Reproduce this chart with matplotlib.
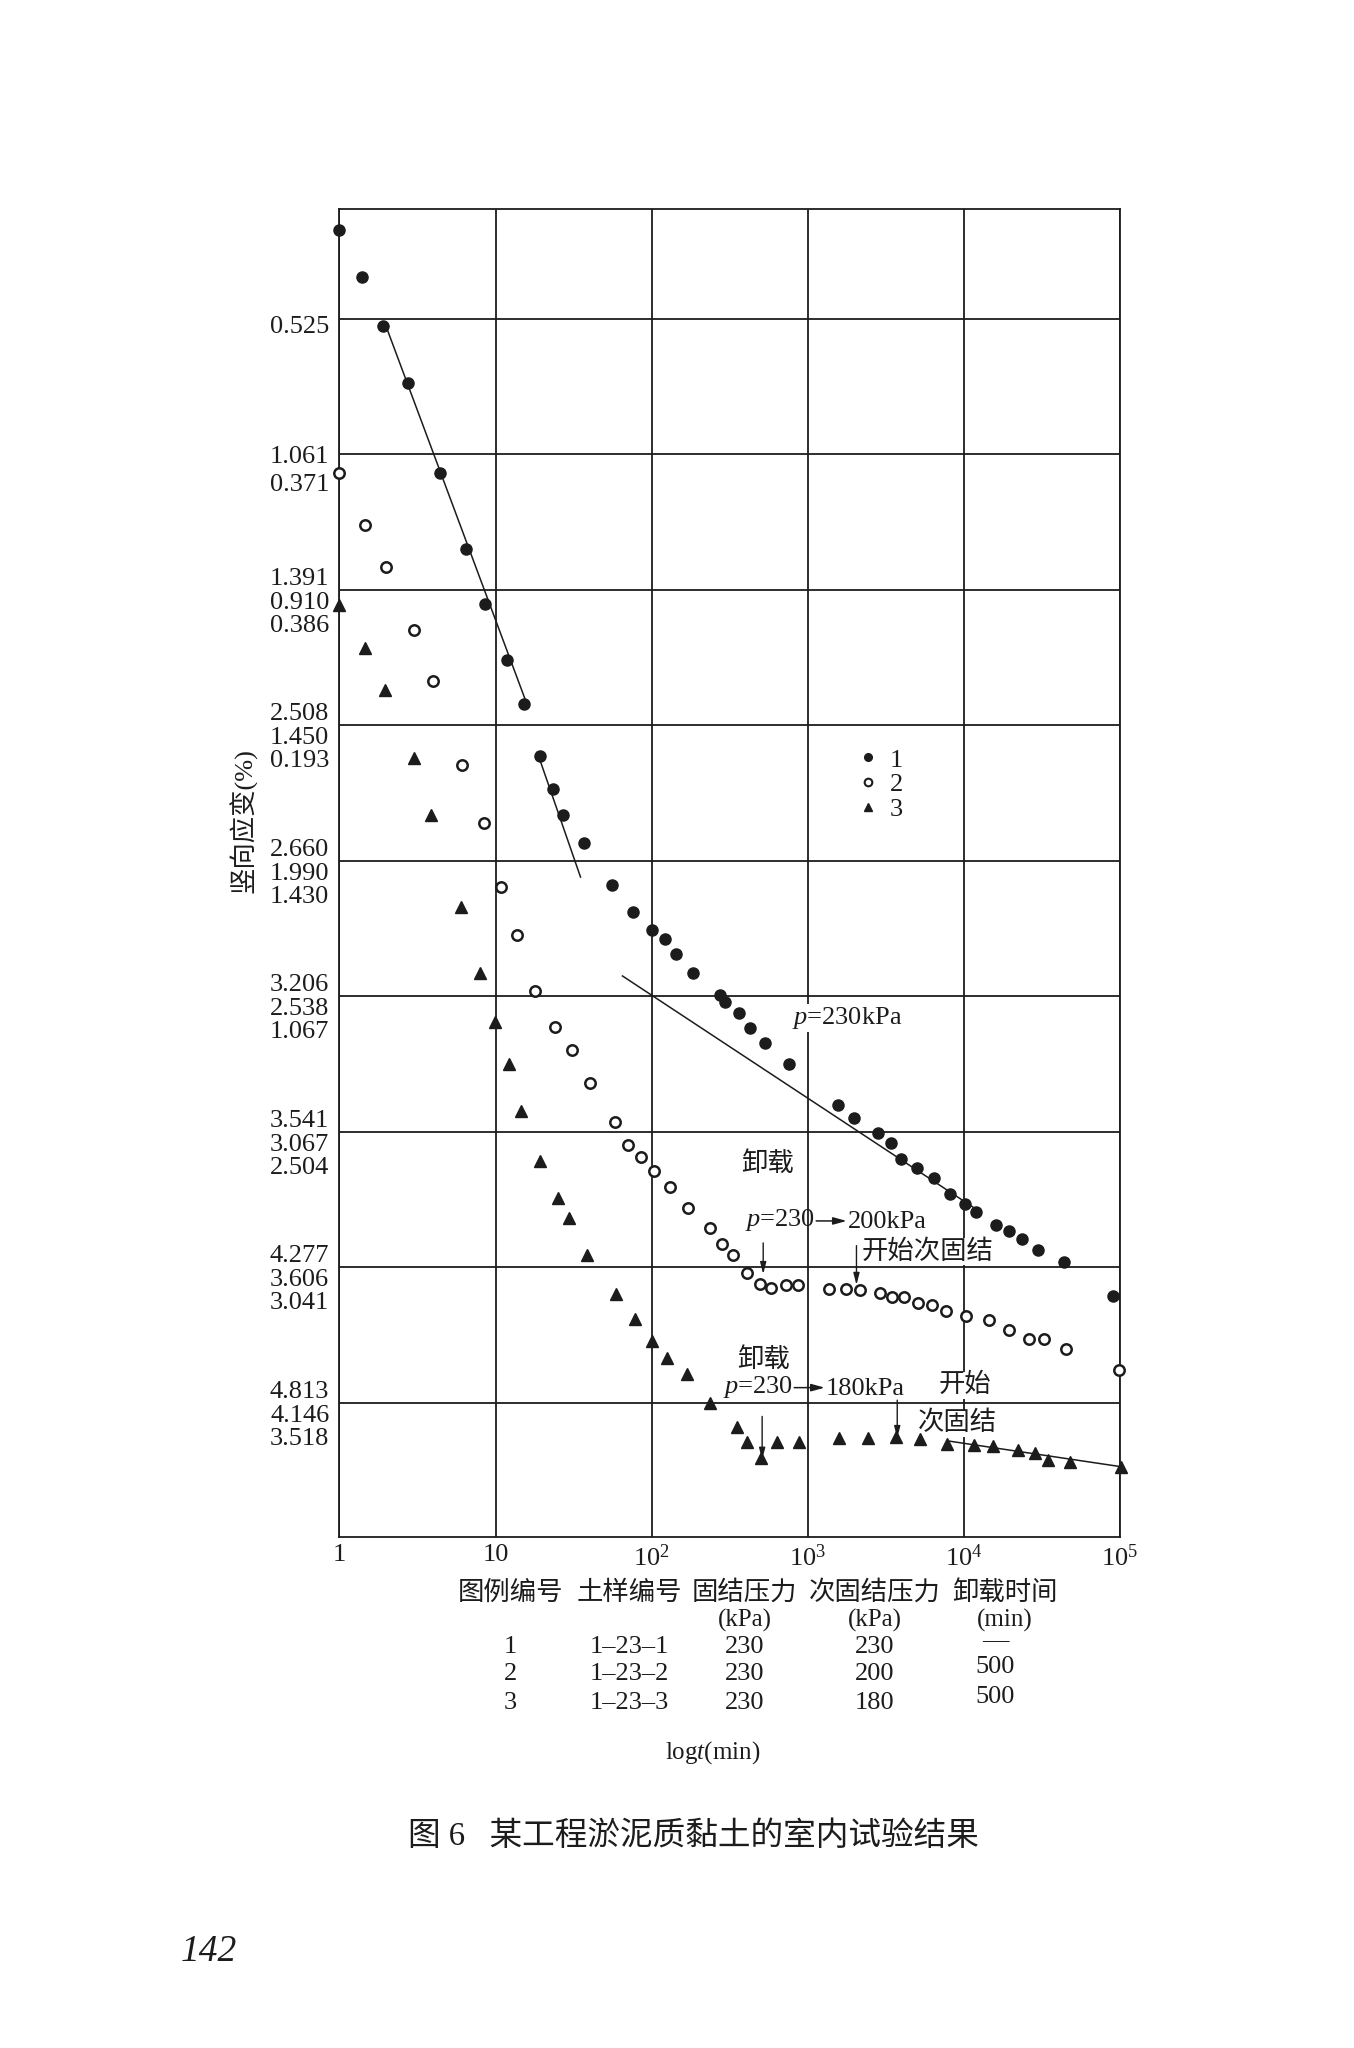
import matplotlib
matplotlib.use("Agg")
import matplotlib.pyplot as plt
from matplotlib.lines import Line2D
from matplotlib.text import OffsetFrom
from matplotlib.ticker import NullLocator

plt.rcParams['font.family'] = ['Liberation Serif', 'Noto Sans CJK SC']
plt.rcParams['mathtext.fontset'] = 'custom'
plt.rcParams['mathtext.rm'] = 'Liberation Serif'
plt.rcParams['mathtext.it'] = 'Liberation Serif:italic'

INK = '#1c1c1c'
FS = 19

# 时间 t (min)；纵向位置以网格线为单位 (1..9 对应九条横线，向下增大)
# 三组试样共用同一组网格线、各自标注应变值，所以按网格位置读数
s1_t = [1.0, 1.4, 1.9, 2.75, 4.4, 6.5, 8.6, 11.8, 15.2, 19.2, 23.5, 27, 37, 56, 76,
        101, 121, 143, 185, 272, 295, 362, 425, 532, 757, 1567, 1990, 2800, 3400,
        3950, 5000, 6400, 8200, 10100, 12000, 16000, 19500, 23400, 30000, 43500, 90000]
s1_pos = [0.344, 0.69, 1.057, 1.477, 2.139, 2.70, 3.107, 3.52, 3.84, 4.23, 4.47, 4.665,
          4.87, 5.18, 5.38, 5.51, 5.575, 5.69, 5.83, 5.99, 6.04, 6.126, 6.234, 6.344,
          6.497, 6.8, 6.9, 7.01, 7.085, 7.2, 7.27, 7.34, 7.46, 7.53, 7.59, 7.69, 7.73,
          7.79, 7.87, 7.96, 8.21]

s2_t = [1.0, 1.45, 1.98, 3.0, 4.0, 6.1, 8.4, 10.9, 13.8, 18, 24.2, 30.8, 40, 58, 71,
        86, 104, 131, 172, 238, 283, 331, 407, 493, 578, 723, 865, 1376, 1766, 2150,
        2920, 3440, 4150, 5060, 6250, 7650, 10300, 14400, 19400, 26200, 32700, 45200, 99000]
s2_pos = [2.14, 2.52, 2.83, 3.30, 3.67, 4.29, 4.72, 5.19, 5.55, 5.96, 6.23, 6.40, 6.64,
          6.93, 7.10, 7.185, 7.29, 7.41, 7.56, 7.71, 7.83, 7.91, 8.04, 8.125, 8.155,
          8.13, 8.13, 8.16, 8.16, 8.17, 8.19, 8.22, 8.22, 8.26, 8.28, 8.32, 8.36, 8.39,
          8.46, 8.53, 8.53, 8.6, 8.755]

s3_t = [1.0, 1.45, 1.96, 3.0, 3.86, 6.0, 8.0, 9.9, 12.2, 14.5, 19.3, 25.1, 29.5, 38.8,
        59, 78, 100, 125, 169, 238, 350, 407, 498, 638, 874, 1585, 2420, 3660, 5260,
        7830, 11600, 15400, 22200, 28600, 34600, 47800, 102000]
s3_pos = [3.11, 3.43, 3.74, 4.24, 4.66, 5.34, 5.83, 6.19, 6.50, 6.85, 7.215, 7.49, 7.635,
          7.906, 8.195, 8.38, 8.54, 8.67, 8.79, 9.0, 9.18, 9.29, 9.41, 9.29, 9.29, 9.26,
          9.26, 9.25, 9.27, 9.30, 9.31, 9.32, 9.35, 9.37, 9.42, 9.44, 9.47]

# 拟合直线端点
fit_lines = [
    ([1.95, 15.6], [1.03, 3.82]),
    ([18.5, 35.0], [4.20, 5.12]),
    ([65, 12300], [5.85, 7.58]),
    ([7800, 100000], [9.28, 9.47]),
]

# 纵轴刻度 (每条网格线旁的三组应变值 %)
ylab_1 = ["0.525", "1.061", "1.391", "2.508", "2.660", "3.206", "3.541", "4.277", "4.813"]
ylab_2 = ["", "0.371", "0.910", "1.450", "1.990", "2.538", "3.067", "3.606", "4.146"]
ylab_3 = ["", "", "0.386", "0.193", "1.430", "1.067", "2.504", "3.041", "3.518"]

x_ticks = [1, 10, 100, 1000, 10000, 100000]
x_ticklabels = ["1", "10", r"$10^{2}$", r"$10^{3}$", r"$10^{4}$", r"$10^{5}$"]

legend_labels = ["1", "2", "3"]

table_head = ["图例编号", "土样编号", "固结压力", "次固结压力", "卸载时间"]
table_unit = ["", "", "(kPa)", "(kPa)", "(min)"]
legend_no = ["1", "2", "3"]
sample_no = ["1–23–1", "1–23–2", "1–23–3"]
consol_p = ["230", "230", "230"]
second_p = ["230", "200", "180"]
unload_t = ["—", "500", "500"]


fig = plt.figure(figsize=(13.54, 20.48), dpi=100)
ax = fig.add_axes([0.2507, 0.2495, 0.5765, 0.6485])
ax.set_xscale('log')
ax.set_xlim(1, 1e5)
ax.set_ylim(9.99, 0.19)

ax.set_xticks(x_ticks)
ax.set_xticklabels(x_ticklabels, fontsize=FS, color=INK)
ax.xaxis.set_minor_locator(NullLocator())
ax.set_yticks(range(1, 10))
ax.set_yticklabels([])
ax.tick_params(length=0, pad=5)
ax.grid(True, color=INK, lw=1.3)
ax.set_axisbelow(True)
for sp in ax.spines.values():
    sp.set_color(INK)
    sp.set_linewidth(1.3)

# 数据点
ax.plot(s1_t, s1_pos, 'o', ms=8, color=INK, clip_on=False, zorder=5)
ax.plot(s2_t, s2_pos, 'o', ms=7.5, mfc='white', mec=INK, mew=1.8, clip_on=False, zorder=5)
ax.plot(s3_t, s3_pos, '^', ms=8.5, color=INK, clip_on=False, zorder=5)

for xs, ys in fit_lines:
    ax.plot(xs, ys, color=INK, lw=1.1, zorder=4)

# 纵轴标注
yt = ax.get_yaxis_transform()
offs = {1: [0.06], 2: [0.02, 0.23], 3: [-0.08, 0.095, 0.265]}
for k in range(9):
    labs = [l for l in (ylab_1[k], ylab_2[k], ylab_3[k]) if l]
    for lab, dy in zip(labs, offs[len(labs)]):
        ax.text(-0.013, k + 1 + dy, lab, transform=yt, ha='right', va='center',
                fontsize=FS, color=INK)

# 图例
handles = [
    Line2D([], [], ls='none', marker='o', ms=5.5, color=INK),
    Line2D([], [], ls='none', marker='o', ms=5.5, mfc='white', mec=INK, mew=1.5),
    Line2D([], [], ls='none', marker='^', ms=6, color=INK),
]
ax.legend(handles, legend_labels, loc='upper left', bbox_to_anchor=(0.663, 0.594),
          frameon=False, fontsize=FS, handlelength=0.8, handletextpad=0.45,
          labelspacing=0.05, borderpad=0, borderaxespad=0,
          labelcolor=INK)

# 标注文字
wbox = dict(fc='white', ec='none', pad=1.0)
arrow_kw = dict(arrowstyle='-|>,head_length=0.7,head_width=0.18', color=INK, lw=1.0,
                shrinkA=0, shrinkB=0)

ax.text(790, 6.16, "$p$=230kPa", ha='left', va='center', fontsize=FS, color=INK,
        bbox=wbox, zorder=3)
ax.text(550, 7.23, "卸载", ha='center', va='center', fontsize=FS, color=INK, zorder=3)


def pressure_text(t, pos, right):
    left = ax.text(t, pos, "$p$=230", ha='left', va='center', fontsize=FS, color=INK,
                   zorder=3)
    ref = OffsetFrom(left, (1, 0.46))
    ax.annotate('', xy=(23, 0), xycoords=ref, xytext=(1, 0), textcoords=ref,
                arrowprops=dict(arrowstyle='-|>,head_length=0.8,head_width=0.22',
                                color=INK, lw=1.1, shrinkA=0, shrinkB=0))
    ax.annotate(right, xy=(24, 0), xycoords=OffsetFrom(left, (1, 0)), ha='left',
                va='bottom', fontsize=FS, color=INK, zorder=3)


pressure_text(394, 7.65, "200kPa")
ax.text(2200, 7.885, "开始次固结", ha='left', va='center', fontsize=FS, color=INK,
        bbox=wbox, zorder=3)
ax.annotate('', xy=(518, 8.05), xytext=(518, 7.82), arrowprops=arrow_kw)
ax.annotate('', xy=(2050, 8.13), xytext=(2050, 7.84), arrowprops=arrow_kw)

ax.text(518, 8.68, "卸载", ha='center', va='center', fontsize=FS, color=INK, zorder=3)
pressure_text(285, 8.88, "180kPa")
ax.text(10200, 8.87, "开始", ha='center', va='center', fontsize=FS, color=INK,
        bbox=wbox, zorder=3)
ax.text(9100, 9.15, "次固结", ha='center', va='center', fontsize=FS, color=INK,
        bbox=wbox, zorder=3)
ax.annotate('', xy=(510, 9.42), xytext=(510, 9.1), arrowprops=arrow_kw)
ax.annotate('', xy=(3740, 9.26), xytext=(3740, 8.98), arrowprops=arrow_kw)

# 纵轴名称
fig.text(0.1794, 0.5995, "竖向应变(%)", rotation=90, ha='center', va='center',
         fontsize=FS, color=INK)

# 图下表格
col_x = [0.377, 0.465, 0.550, 0.646, 0.742]
for x, h, u in zip(col_x, table_head, table_unit):
    fig.text(x, 0.2225, h, ha='center', va='center', fontsize=FS, color=INK)
    if u:
        fig.text(x, 0.2090, u, ha='center', va='center', fontsize=FS - 1, color=INK)

row_y = [0.1960, 0.1828, 0.1684]
for i, y in enumerate(row_y):
    vals = [legend_no[i], sample_no[i], consol_p[i], second_p[i]]
    for x, v in zip(col_x[:4], vals):
        fig.text(x, y, v, ha='center', va='center', fontsize=FS, color=INK)
    fig.text(col_x[4] - 0.007, y + 0.003, unload_t[i], ha='center', va='center',
             fontsize=FS, color=INK)

fig.text(0.5265, 0.1441, "log$t$(min)", ha='center', va='center', fontsize=FS - 1,
         color=INK)
fig.text(0.512, 0.1033, "图 6   某工程淤泥质黏土的室内试验结果", ha='center',
         va='center', fontsize=23.5, color=INK)
fig.text(0.154, 0.047, "142", ha='center', va='center', fontsize=27, style='italic',
         color=INK)

fig.savefig("out.png", dpi=100, facecolor='white')
